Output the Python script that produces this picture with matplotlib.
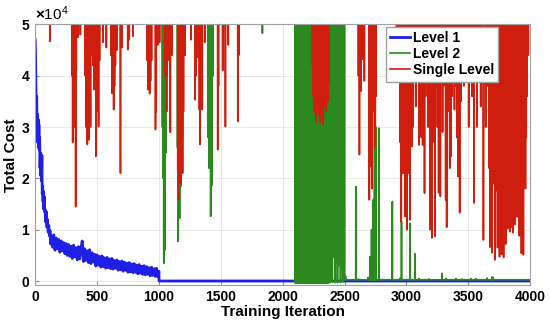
import matplotlib
matplotlib.use('Agg')
import matplotlib.pyplot as plt
from matplotlib.ticker import ScalarFormatter
import numpy as np

plt.rcParams['font.family'] = ['Liberation Sans', 'DejaVu Sans']
plt.rcParams['font.weight'] = 'bold'
plt.rcParams['mathtext.fontset'] = 'custom'
plt.rcParams['mathtext.rm'] = 'Liberation Sans'

N_ITER = 4000
ABOVE_AXIS = 60000   # cost values that run off the top of the plot

# Level 1: noisy decay over the first 1000 iterations, then flat
level1_iter = [0, 3, 6, 9, 12, 15, 18, 21, 24, 27, 30, 33, 36, 39, 42, 45, 48, 51, 54, 57,
               60, 63, 66, 69, 72, 75, 80, 85, 90, 95, 100, 105, 110, 115, 120, 125,
               130, 140, 150, 160, 170, 180, 190, 200, 210, 220, 230, 240, 250, 260, 270, 280,
               290, 300, 310, 320, 330, 340, 350, 360, 370, 380, 390, 400, 410, 420, 430, 440,
               450, 460, 470, 480, 490, 500, 510, 520, 530, 540, 550, 560, 570, 580, 590, 600,
               610, 620, 630, 640, 650, 660, 670, 680, 690, 700, 710, 720, 730, 740, 750, 760,
               770, 780, 790, 800, 810, 820, 830, 840, 850, 860, 870, 880, 890, 900, 910, 920,
               930, 940, 950, 960, 970, 980, 990, 1000, 1001, 4000]
level1_cost = [47000, 44000, 38000, 33000, 36000, 30000, 32500, 27000, 31500, 26000, 30500,
               25500, 28000, 22000, 25000, 20500, 23000, 19500, 24500, 17000,
               18500, 15500, 17500, 14000, 16500, 13500, 14000, 11500, 13500, 10500, 12000,
               9500, 10800, 8800, 9800, 7200,
               8800, 6600, 9000, 6000, 8400, 6300, 8100, 5600, 7800, 5900, 7500, 5300, 7300,
               5000, 7100, 4800, 6800, 4400, 7000, 4700, 6500, 4100, 6700, 4300, 6400, 7800,
               3800, 6300, 4000, 5900, 3600, 6100, 3400, 5500, 3700, 5200, 2900, 5100, 3100,
               4800, 2700, 4900, 2800, 4500, 2500, 4600, 2600, 4300, 2400, 4400, 2300, 4000,
               2500, 4100, 2100, 3800, 2200, 3900, 1900, 3700, 2100, 3500, 1700, 3600, 1800,
               3300, 1600, 3400, 1700, 3100, 1400, 3200, 1500, 2900, 1300, 3000, 1200, 2800,
               1300, 2600, 1000, 2700, 1100, 2400, 900, 2500, 800, 1900, 0, 0]

# Level 2: starts at 1000, off the chart with dips, wild until ~2500, then settles
level2_start = 1000
level2_settle = 2500
level2_settled_cost = 250
level2_iter = [1028, 1035, 1039, 1044, 1050, 1056, 1063, 1070, 1100, 1150, 1153, 1160, 1167,
               1172, 1176, 1182, 1190, 1196, 1395, 1405, 1410, 1418, 1424, 1430, 1437, 1836,
               2100, 2106, 2112, 2118, 2124, 2130, 2136, 2142, 2148, 2154, 2160, 2166, 2172,
               2178, 2184, 2190, 2196, 2202, 2208, 2214, 2220, 2226, 2232, 2238, 2244, 2250,
               2256, 2262, 2268, 2274, 2280, 2286, 2292, 2298, 2304, 2310, 2316, 2322, 2328,
               2334, 2340, 2346, 2352, 2358, 2364, 2370,
               2378, 2383, 2389, 2395, 2401, 2407, 2413, 2419, 2425, 2431, 2437, 2443, 2449,
               2455, 2461, 2467, 2473, 2479, 2485, 2491, 2497]
level2_cost = [30000, 20000, 3450, 12000, 6050, 25000, 40000, 47000, 46000, 26000, 7700, 14000,
               12200, 30000, 18400, 35000, 28000, 42000, 28000, 22000, 35000, 12600, 30000,
               18700, 40000, 48300,
               -400, -300, -400, -350, -400, -250, -400, -380, -300, -400, -350, -400, -300,
               -400, -380, -400, -300, -400, -350, -400, -400, -300, -380, -400, -350, -400,
               -300, -400, -400, -350, -300, -400, -380, -400, -300, -400, -350, -400, -400,
               -300, -380, -400, -350, -400, -300, -400,
               4000, -300, 5000, 3500, -200, 4700, 5200, 4500, -300, 3800, 6000, -350, 4200,
               3000, 5000, -300, 2500, 4000, -200, 2800, 2800]
level2_spike_iter = [2503, 2508, 2591, 2610, 2690, 2705, 2718, 2724, 2728, 2733, 2738, 2742,
                     2747, 2752, 2776, 2886, 2950, 2960, 3030, 3070, 3100, 3180, 3288, 3320,
                     3400, 3450, 3520, 3560, 3650, 3690, 3700]
level2_spike_cost = [900, 900, 18400, 400, 700, 4750, 10000, 6000, 15800, 8000, 16000, 55000,
                     15800, 30000, 29800, 15500, 600, 11600, 11300, 5300, 500, 400, 1500, 500,
                     500, 400, 500, 500, 600, 800, 700]

# Single Level: off the chart most of the time, dips down
single_iter = [118, 298, 303, 308, 313, 318, 322, 327, 332, 345, 365, 405, 410, 416, 421, 427,
               433, 440, 447, 460, 468, 475, 482, 490, 497, 505, 512, 520, 548, 575, 612, 620,
               627, 634, 641, 648, 660, 689, 703, 748, 760, 790, 905, 912, 918, 925, 932, 940,
               972, 978, 990,
               1005, 1048, 1062, 1075, 1092, 1105, 1152, 1158, 1166, 1175, 1183, 1191, 1198,
               1212, 1258, 1293, 1300, 1318, 1327, 1333, 1340, 1350, 1370, 1475, 1481, 1515,
               1537, 1560, 1637, 1645,
               2240, 2246, 2251, 2256, 2262, 2267, 2272, 2278, 2283, 2289, 2294, 2300, 2305,
               2311, 2316, 2322, 2327, 2333, 2338, 2344, 2350, 2356, 2362, 2368, 2374,
               2612, 2620, 2632, 2648, 2660, 2700, 2705, 2712, 2720, 2740, 2748, 2755, 2920,
               2933, 2950, 2958, 2965, 2972, 2980, 2988, 2995, 3003, 3012, 3020, 3028, 3035,
               3045, 3052, 3060, 3075, 3090, 3103, 3112, 3120, 3131, 3140, 3146, 3155, 3165,
               3175, 3189, 3196, 3205, 3212, 3222, 3231, 3240, 3250, 3260, 3268, 3274, 3283,
               3292, 3300, 3317, 3325, 3333, 3342, 3350, 3360, 3370, 3380, 3388, 3398, 3408,
               3416, 3430, 3440, 3452, 3465, 3473, 3490, 3503, 3515, 3530, 3545, 3558, 3570,
               3585, 3600, 3622, 3640, 3655, 3668,
               3675, 3681, 3686, 3692, 3697, 3703, 3708, 3714, 3719, 3725, 3730, 3736, 3741,
               3747, 3752, 3758, 3763, 3769, 3774, 3780, 3785, 3791, 3796, 3802, 3807, 3813,
               3818, 3824, 3829, 3835, 3840, 3846, 3851, 3857, 3862, 3868, 3873, 3879, 3884,
               3890, 3895, 3901, 3906, 3912, 3917, 3923, 3929, 3934, 3940, 3945, 3951, 3957,
               3962, 3968, 3975, 3985]
single_cost = [46700, 40000, 27000, 43500, 33000, 38000, 30000, 14500, 41000, 47500, 48000,
               40000, 30000, 36000, 26600, 33000, 27500, 38000, 30000, 44000, 42000, 37300,
               41000, 24300, 33000, 41000, 30100, 43000, 46500, 45500, 44000, 36600, 40000,
               33400, 38000, 42000, 45000, 21000, 45500, 45100, 47000, 47700, 43000, 37300,
               40500, 36500, 39000, 43000, 29500, 33000, 46000,
               46500, 40000, 33000, 43000, 29000, 44000, 21700, 16000, 26000, 19000, 24000,
               21000, 33000, 44000, 47000, 35300, 40000, 43500, 33400, 26600, 37000, 33400,
               46500, 25600, 38000, 41000, 30100, 46000, 31100, 44000,
               42000, 36000, 38500, 33000, 40000, 35500, 31000, 37000, 34000, 39000, 32500,
               36000, 31000, 38000, 33500, 35000, 30500, 37500, 34000, 39500, 33000, 36500,
               41000, 35000, 38500,
               40000, 24600, 37000, 43200, 39000, 15800, 22300, 30000, 18000, 33000, 26000,
               36000, 44000, 40600, 27000, 11500, 31400, 21000, 38000, 12600, 25000, 10000,
               33000, 21000, 11900, 36000, 26200, 30000, 40000, 34000, 45000, 26500, 38000,
               28000, 26500, 42000, 17100, 36000, 44000, 30000, 10000, 32000, 8400, 27000,
               36000, 8700, 38000, 30000, 17200, 34000, 16500, 40000, 29000, 38000, 15800,
               10500, 33000, 41000, 22000, 24300, 36000, 40000, 33400, 38000, 28000, 20400,
               13300, 35000, 44000, 38000, 41900, 40000, 30000, 44000, 36000, 15200, 39000,
               30000, 41000, 34000, 8000, 30000, 38000, 22000,
               6600, 24000, 20000, 5500, 26000, 19000, 22000, 4100, 17500, 24000, 21000, 6500,
               18000, 25000, 4700, 20000, 23000, 5200, 19000, 26000, 4600, 22000, 18500, 7200,
               24000, 21000, 10200, 26000, 19500, 9600, 23000, 10500, 20000, 25000, 9400,
               21500, 24000, 11000, 18000, 22500, 12500, 26000, 20000, 8800, 23000, 19000,
               5400, 24500, 21000, 5100, 26000, 22300, 18000, 28000, 36000, 44000]

# build the per-iteration series
iters = np.arange(1, N_ITER + 1)

level2 = np.full(N_ITER, np.nan)
level2[level2_start:level2_settle] = ABOVE_AXIS
level2[level2_settle:] = level2_settled_cost
level2[np.array(level2_iter) - 1] = level2_cost
level2[np.array(level2_spike_iter) - 1] = level2_spike_cost

single = np.full(N_ITER, float(ABOVE_AXIS))
single[np.array(single_iter) - 1] = single_cost

fig = plt.figure(figsize=(5.5, 3.3), dpi=100)
ax = fig.add_axes([0.064, 0.136, 0.9, 0.79])

ax.plot(level1_iter, level1_cost, color='#1f1fe6', linewidth=2.0, label='Level 1')
ax.plot(iters, level2, color='#2a8a1e', linewidth=1.2, label='Level 2')
ax.plot(iters, single, color='#cf1e0e', linewidth=1.2, label='Single Level')

ax.set_xlim(0, 4000)
ax.set_ylim(-800, 50000)
ax.set_xticks([0, 500, 1000, 1500, 2000, 2500, 3000, 3500, 4000])
ax.set_yticks([0, 10000, 20000, 30000, 40000, 50000])

fmt = ScalarFormatter(useMathText=True)
fmt.set_powerlimits((0, 0))
ax.yaxis.set_major_formatter(fmt)
ax.yaxis.get_offset_text().set_fontsize(11)
ax.yaxis.get_offset_text().set_fontweight('normal')

ax.tick_params(direction='in', length=3, labelsize=10, color='#909090')
for lbl in ax.get_xticklabels() + ax.get_yticklabels():
    lbl.set_fontweight('bold')
for sp in ax.spines.values():
    sp.set_color('#a0a0a0')
    sp.set_linewidth(0.8)

ax.grid(True, color='#e4e4e4', linewidth=0.6)
ax.set_axisbelow(True)

ax.set_xlabel('Training Iteration', fontsize=11, fontweight='bold', labelpad=1)
ax.set_ylabel('Total Cost', fontsize=11, fontweight='bold', labelpad=2)

leg = ax.legend(loc='upper right', bbox_to_anchor=(0.935, 0.99), borderaxespad=0,
                fontsize=10, handlelength=1.4, handletextpad=0.2, labelspacing=0.15,
                borderpad=0.3, fancybox=False, framealpha=1, edgecolor='#a0a0a0')
for t in leg.get_texts():
    t.set_fontweight('bold')

fig.savefig('out.png', dpi=100)
